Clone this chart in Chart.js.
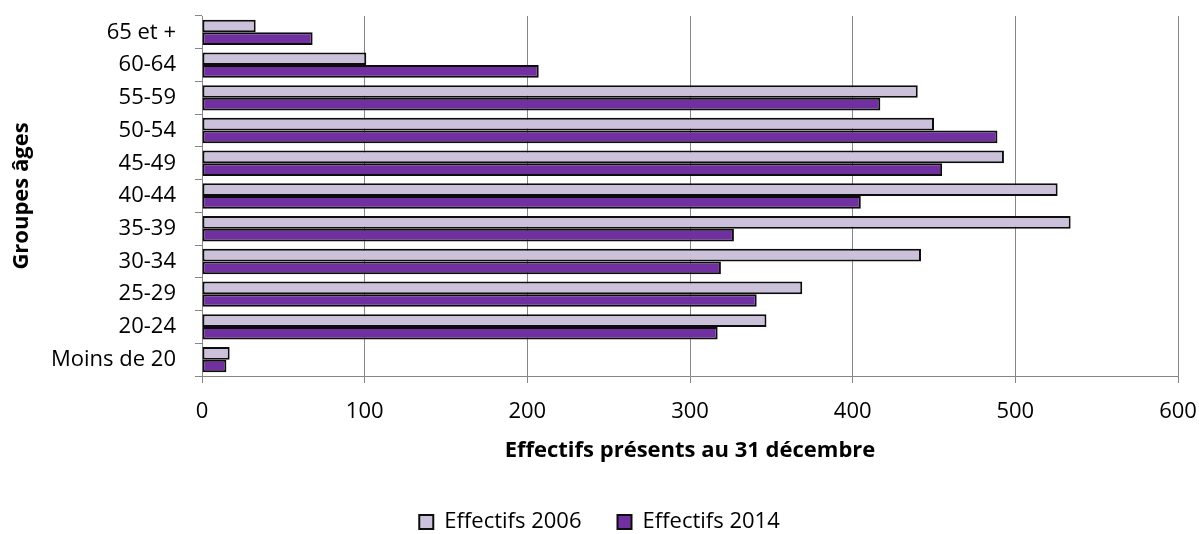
<!DOCTYPE html>
<html>
<head>
<meta charset="utf-8">
<script src="https://cdn.jsdelivr.net/npm/chart.js@4/dist/chart.umd.min.js"></script>
<style>
  html, body { margin: 0; padding: 0; background: #ffffff; overflow: hidden; }
  #wrap { width: 1199px; height: 534px; }
</style>
</head>
<body>
<div id="wrap"><canvas id="c" width="1199" height="534"></canvas></div>
<script>
const categories = ['65 et +', '60-64', '55-59', '50-54', '45-49', '40-44', '35-39', '30-34', '25-29', '20-24', 'Moins de 20'];
const effectifs2006 = [33, 101, 440, 450, 493, 526, 534, 442, 369, 347, 17];
const effectifs2014 = [68, 207, 417, 489, 455, 405, 327, 319, 341, 317, 15];
const xTicks = [0, 100, 200, 300, 400, 500, 600];
const seriesNames = ['Effectifs 2006', 'Effectifs 2014'];
const xTitle = 'Effectifs présents au 31 décembre';
const yTitle = 'Groupes âges';

Chart.defaults.font.family = "'Open Sans', sans-serif";
Chart.defaults.color = '#000000';

const legendShift = {
  id: 'legendShift',
  beforeLayout(chart) {
    const lg = chart.legend;
    if (lg && !lg._patched) {
      const orig = lg.fit.bind(lg);
      lg.fit = function () { orig(); this.height -= 9; };
      lg._patched = true;
    }
  }
};

new Chart(document.getElementById('c'), {
  type: 'bar',
  data: {
    labels: categories,
    datasets: [
      { label: seriesNames[0], data: effectifs2006, backgroundColor: '#CCC1DA', borderColor: '#0d0d0d', borderWidth: 2, borderSkipped: false },
      { label: seriesNames[1], data: effectifs2014, backgroundColor: '#7030A0', borderColor: '#0d0d0d', borderWidth: 2, borderSkipped: false }
    ]
  },
  options: {
    indexAxis: 'y',
    responsive: false,
    animation: false,
    devicePixelRatio: 1,
    layout: { padding: { top: 16, right: 0, left: 0, bottom: 0 } },
    datasets: { bar: { categoryPercentage: 0.775, barPercentage: 1.0 } },
    scales: {
      x: {
        min: 0, max: 600,
        afterBuildTicks(scale) { scale.ticks = xTicks.map(v => ({ value: v })); },
        afterFit(scale) { scale.height = 99; scale.paddingLeft = 0; scale.paddingRight = 21; },
        grid: { color: '#868686', lineWidth: 1, tickLength: 7, drawTicks: true },
        border: { color: '#868686', width: 1 },
        ticks: { font: { size: 22 }, padding: 16, color: '#000' },
        title: { display: true, text: xTitle, font: { size: 22, weight: 'bold' }, padding: { top: 0, bottom: 11 }, color: '#000' }
      },
      y: {
        afterFit(scale) { scale.width = 202; scale.paddingTop = 0; scale.paddingBottom = 0; },
        grid: { drawOnChartArea: false, drawTicks: true, tickLength: 7, color: '#868686', offset: true },
        border: { color: '#868686', width: 1 },
        ticks: { font: { size: 22 }, padding: 19, color: '#000' },
        title: { display: true, text: yTitle, font: { size: 22, weight: 'bold' }, padding: { top: 9, bottom: 0 }, color: '#000' }
      }
    },
    plugins: {
      legend: {
        position: 'bottom',
        labels: { boxWidth: 14, boxHeight: 14, padding: 36, font: { size: 22 }, color: '#000' }
      },
      tooltip: { enabled: false }
    }
  },
  plugins: [legendShift]
});
</script>
</body>
</html>
